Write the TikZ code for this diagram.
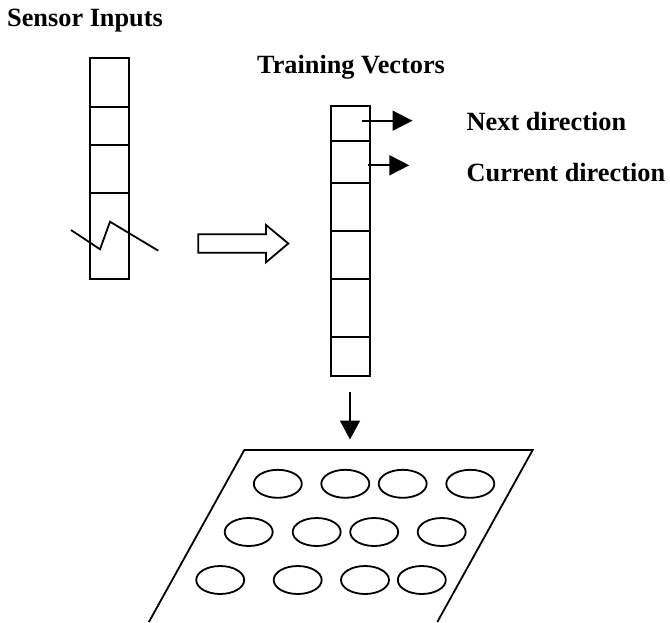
\documentclass[tikz,border=0pt]{standalone}
\usepackage{fontspec}
\setmainfont{Liberation Serif}
\usetikzlibrary{arrows.meta,shapes.geometric}
\tikzset{
  ln/.style={line width=1.8pt, line join=miter},
  lbl/.style={anchor=base west, inner sep=0pt, font=\fontsize{26.3}{30}\selectfont\bfseries},
  vec/.style={ln, draw, rectangle, inner sep=0pt},
  cell/.style={ln},
  arr/.style={ln, -{Triangle[length=20pt,width=20pt]}},
  hole/.style={ln, draw, ellipse, inner sep=0pt, minimum width=48pt, minimum height=28pt},
}
\begin{document}
\begin{tikzpicture}[x=1pt,y=-1pt]
\useasboundingbox (0,0) rectangle (670,622);
% labels
\node[lbl] (sens) at (7,26.5) {Sensor Inputs};
\node[lbl] (train) at (257,73) {Training Vectors};
\node[lbl] (next) at (466.5,130) {Next direction};
\node[lbl] (curr) at (466.5,181) {Current direction};
% left vector
\node[vec, minimum width=39pt, minimum height=221pt] (lv) at (109.8,168.8) {};
\foreach \yy in {106.7,145,192.7}{\draw[cell] (lv.west |- 0,\yy) -- (lv.east |- 0,\yy);}
\coordinate (z1) at (71,230);
\coordinate (z2) at (100,249.3);
\coordinate (z3) at (110,221.7);
\coordinate (z4) at (158.3,250.7);
\draw[ln] (z1) -- (z2) -- (z3) -- (z4);
% hollow arrow
\coordinate (h1) at (198.3,234.3);
\coordinate (h2) at (266,234.3);
\coordinate (h3) at (266,225);
\coordinate (h4) at (288.3,243.5);
\coordinate (h5) at (266,262.3);
\coordinate (h6) at (266,252.7);
\coordinate (h7) at (198.3,252.7);
\draw[ln] (h1) -- (h2) -- (h3) -- (h4) -- (h5) -- (h6) -- (h7) -- cycle;
% right vector
\node[vec, minimum width=39pt, minimum height=269.7pt] (rv) at (350.5,241.2) {};
\foreach \yy in {141,183.3,231,279.3,336.7}{\draw[cell] (rv.west |- 0,\yy) -- (rv.east |- 0,\yy);}
% direction arrows
\coordinate (na) at (362.3,120.7);
\coordinate (nb) at (412.5,120.7);
\coordinate (ca) at (368,165.3);
\coordinate (cb) at (409.3,165.3);
\draw[arr] (na) -- (nb);
\draw[arr] (ca) -- (cb);
% down arrow
\coordinate (da) at (350,392.3);
\coordinate (db) at (350,439.5);
\draw[ln, -{Triangle[length=19pt,width=20pt]}] (da) -- (db);
% map plane
\coordinate (p1) at (148.9,622);
\coordinate (p2) at (244.3,450);
\coordinate (p3) at (532.7,450);
\coordinate (p4) at (437.3,622);
\draw[ln] (p1) -- (p2) -- (p3) -- (p4);
% nodes on map
\node[hole] (e11) at (277.8,483.8) {};
\node[hole] (e12) at (345.3,483.8) {};
\node[hole] (e13) at (402.7,483.8) {};
\node[hole] (e14) at (470.3,483.8) {};
\node[hole] (e21) at (248.7,532) {};
\node[hole] (e22) at (316.7,532) {};
\node[hole] (e23) at (374.2,532) {};
\node[hole] (e24) at (441.7,532) {};
\node[hole] (e31) at (220.2,580) {};
\node[hole] (e32) at (297.7,580) {};
\node[hole] (e33) at (365,580) {};
\node[hole] (e34) at (421.8,580) {};
\end{tikzpicture}
\end{document}
